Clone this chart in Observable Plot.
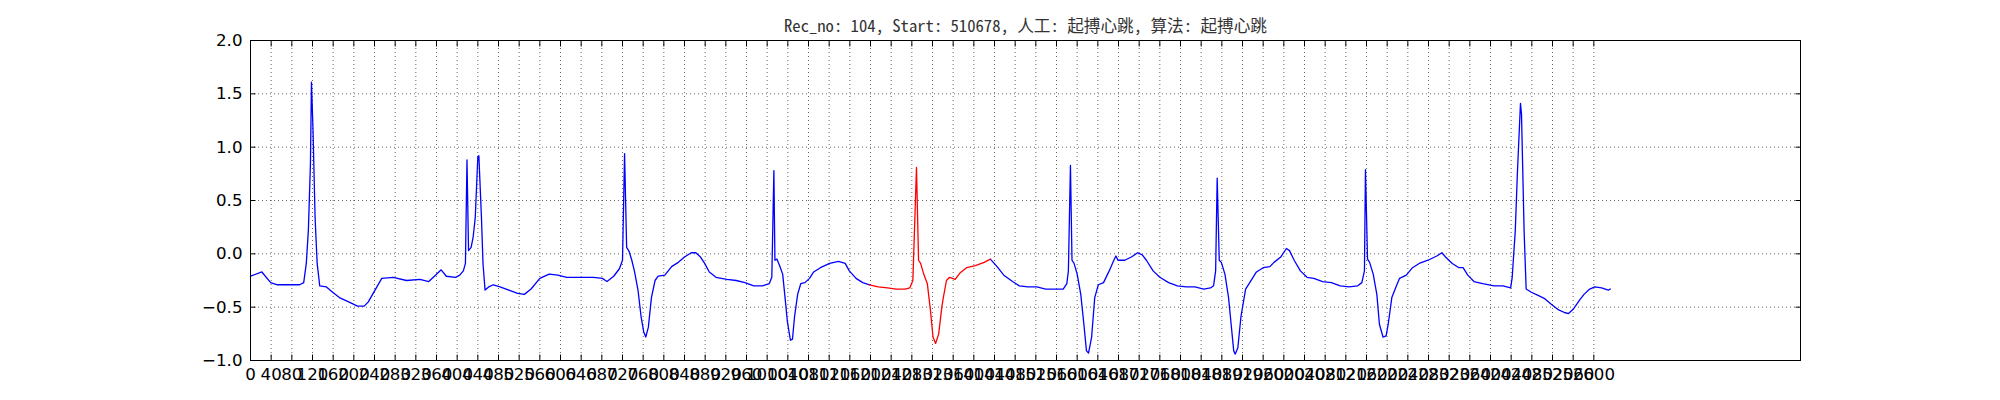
<!DOCTYPE html>
<html>
<head>
<meta charset="utf-8">
<script src="https://cdn.jsdelivr.net/npm/d3@7"></script>
<script src="https://cdn.jsdelivr.net/npm/@observablehq/plot@0.6"></script>
<style>
  html, body { margin: 0; padding: 0; background: #fff; }
  #chart { width: 2000px; height: 400px; }
</style>
</head>
<body>
<div id="chart"></div>
<script>
// ---- data (sample index, amplitude) ----
const sampleIdx = [
  0, 22, 39, 52, 95, 103, 108, 112, 116, 118, 121, 125, 129, 134, 147, 159, 172, 190, 207, 220,
  228, 241, 254, 276, 302, 328, 345, 358, 369, 379, 397, 405, 412, 416, 419, 422, 427, 431, 435, 440,
  442, 447, 450, 454, 461, 470, 483, 500, 517, 530, 543, 560, 578, 595, 612, 638, 664, 681, 690, 703,
  714, 720, 724, 728, 733, 738, 743, 750, 756, 761, 765, 770, 776, 783, 789, 802, 815, 828, 840, 853,
  862, 871, 879, 888, 901, 922, 940, 957, 974, 991, 1004, 1009, 1013, 1015, 1019, 1024, 1030, 1034, 1039, 1045,
  1049, 1053, 1059, 1065, 1073, 1082, 1090, 1103, 1121, 1138, 1151, 1159, 1172, 1185, 1198, 1215, 1233, 1250, 1267, 1276,
  1282, 1289, 1293, 1297, 1303, 1310, 1316, 1321, 1326, 1332, 1338, 1341, 1347, 1353, 1364, 1373, 1386, 1403, 1420, 1432,
  1445, 1458, 1475, 1488, 1505, 1522, 1539, 1556, 1573, 1580, 1583, 1587, 1590, 1594, 1600, 1607, 1613, 1618, 1622, 1628,
  1634, 1641, 1651, 1662, 1671, 1675, 1679, 1692, 1705, 1717, 1726, 1734, 1747, 1760, 1777, 1794, 1811, 1828, 1845, 1858,
  1864, 1868, 1871, 1875, 1879, 1886, 1893, 1898, 1903, 1906, 1911, 1917, 1926, 1934, 1947, 1960, 1973, 1981, 1994, 2005,
  2011, 2020, 2032, 2045, 2058, 2075, 2092, 2109, 2126, 2143, 2151, 2156, 2158, 2162, 2166, 2173, 2180, 2185, 2192, 2198,
  2202, 2209, 2217, 2224, 2237, 2249, 2262, 2279, 2296, 2306, 2313, 2326, 2339, 2347, 2356, 2368, 2385, 2407, 2424, 2439,
  2442, 2448, 2452, 2458, 2460, 2465, 2469, 2479, 2492, 2505, 2517, 2530, 2543, 2551, 2560, 2573, 2581, 2592, 2602, 2615,
  2628, 2632
];
const ecgValues = [
  -0.21, -0.17, -0.27, -0.29, -0.29, -0.27, -0.09, 0.22, 0.84, 1.61, 1.16, 0.34, -0.09, -0.30, -0.31, -0.36, -0.41, -0.45, -0.49, -0.49,
  -0.45, -0.34, -0.23, -0.22, -0.25, -0.24, -0.26, -0.20, -0.15, -0.21, -0.22, -0.20, -0.16, -0.09, 0.88, 0.03, 0.06, 0.16, 0.34, 0.91,
  0.92, 0.34, -0.09, -0.34, -0.31, -0.29, -0.31, -0.34, -0.37, -0.38, -0.33, -0.23, -0.19, -0.20, -0.22, -0.22, -0.22, -0.23, -0.26, -0.21,
  -0.14, -0.06, 0.94, 0.06, 0.02, -0.06, -0.16, -0.34, -0.59, -0.73, -0.78, -0.69, -0.41, -0.25, -0.21, -0.20, -0.12, -0.08, -0.03, 0.01,
  0.01, -0.03, -0.09, -0.17, -0.22, -0.24, -0.25, -0.27, -0.30, -0.30, -0.28, -0.22, 0.78, -0.06, -0.05, -0.11, -0.19, -0.38, -0.63, -0.81,
  -0.80, -0.59, -0.38, -0.28, -0.27, -0.23, -0.17, -0.13, -0.09, -0.07, -0.09, -0.16, -0.23, -0.27, -0.29, -0.31, -0.32, -0.33, -0.33, -0.32,
  -0.25, 0.81, -0.06, -0.09, -0.19, -0.28, -0.53, -0.78, -0.84, -0.75, -0.50, -0.41, -0.25, -0.22, -0.24, -0.18, -0.13, -0.11, -0.08, -0.05,
  -0.12, -0.20, -0.26, -0.30, -0.31, -0.31, -0.33, -0.33, -0.33, -0.28, -0.16, 0.83, -0.06, -0.09, -0.19, -0.38, -0.66, -0.91, -0.93, -0.78,
  -0.41, -0.29, -0.27, -0.16, -0.06, -0.02, -0.06, -0.06, -0.03, 0.01, -0.01, -0.06, -0.16, -0.22, -0.27, -0.30, -0.31, -0.31, -0.33, -0.32,
  -0.30, -0.16, 0.71, -0.06, -0.08, -0.19, -0.41, -0.66, -0.91, -0.94, -0.88, -0.59, -0.33, -0.27, -0.17, -0.13, -0.12, -0.08, -0.03, 0.05,
  0.03, -0.06, -0.16, -0.22, -0.23, -0.26, -0.27, -0.30, -0.31, -0.30, -0.27, -0.16, 0.79, -0.05, -0.08, -0.19, -0.38, -0.66, -0.78, -0.77,
  -0.66, -0.41, -0.31, -0.23, -0.20, -0.13, -0.09, -0.06, -0.02, 0.01, -0.03, -0.09, -0.13, -0.13, -0.20, -0.26, -0.28, -0.30, -0.30, -0.32,
  -0.22, 0.22, 0.75, 1.41, 1.31, 0.22, -0.33, -0.36, -0.39, -0.42, -0.47, -0.52, -0.55, -0.56, -0.52, -0.43, -0.38, -0.33, -0.31, -0.32,
  -0.34, -0.33
];
// highlighted (red) window of the annotated beat
const highlightStart = 1198;
const highlightEnd = 1432;

// axes
const lastSample = 2632;
const xTickStep = 40;
const xTicks = d3.range(0, lastSample + 1, xTickStep);
const yTicks = [-1.0, -0.5, 0.0, 0.5, 1.0, 1.5, 2.0];
const xDomain = [0, 3000];
const yDomain = [-1, 2];

const titleText = "Rec_no: 104, Start: 510678, 人工: 起搏心跳, 算法: 起搏心跳";

// ---- build ----
const ecg = sampleIdx.map((x, i) => ({x, v: ecgValues[i]}));
const blueBefore = ecg.filter(d => d.x <= highlightStart);
const blueAfter = ecg.filter(d => d.x >= highlightEnd);
const highlighted = ecg.filter(d => d.x >= highlightStart && d.x <= highlightEnd);

const gridStyle = {stroke: "#000", strokeOpacity: 1, strokeWidth: 0.6, strokeDasharray: "1,3"};
const lineStyle = {x: "x", y: "v", strokeWidth: 1.3};

const chart = Plot.plot({
  width: 2000,
  height: 400,
  marginLeft: 250,
  marginRight: 200,
  marginTop: 40,
  marginBottom: 40,
  style: {
    fontFamily: "'DejaVu Sans', sans-serif",
    fontSize: "16.67px",
    background: "#fff",
    color: "#000",
    overflow: "visible"
  },
  x: {domain: xDomain},
  y: {domain: yDomain},
  marks: [
    Plot.gridX(xTicks, gridStyle),
    Plot.gridY(yTicks, gridStyle),
    Plot.line(blueBefore, {...lineStyle, stroke: "#0000ff"}),
    Plot.line(blueAfter, {...lineStyle, stroke: "#0000ff"}),
    Plot.line(highlighted, {...lineStyle, stroke: "#ff0000"}),
    Plot.axisX(xTicks, {anchor: "bottom", tickSize: -5.5, tickPadding: 13.5, tickFormat: d => String(d), label: null}),
    Plot.axisX(xTicks, {anchor: "top", tickSize: -5.5, fill: "none", label: null}),
    Plot.axisY(yTicks, {anchor: "left", tickSize: -5.5, tickPadding: 13.5, tickFormat: d3.format(".1f"), label: null}),
    Plot.axisY(yTicks, {anchor: "right", tickSize: -5.5, fill: "none", label: null}),
    Plot.frame({stroke: "#000", strokeWidth: 1}),
    Plot.text([titleText], {
      text: d => d,
      frameAnchor: "top",
      lineAnchor: "bottom",
      dy: -9,
      fontFamily: "'Noto Sans Mono CJK SC', 'Noto Sans CJK SC', monospace",
      fontSize: 16.67,
      fill: "#333"
    })
  ]
});

document.getElementById("chart").appendChild(chart);
</script>
</body>
</html>
